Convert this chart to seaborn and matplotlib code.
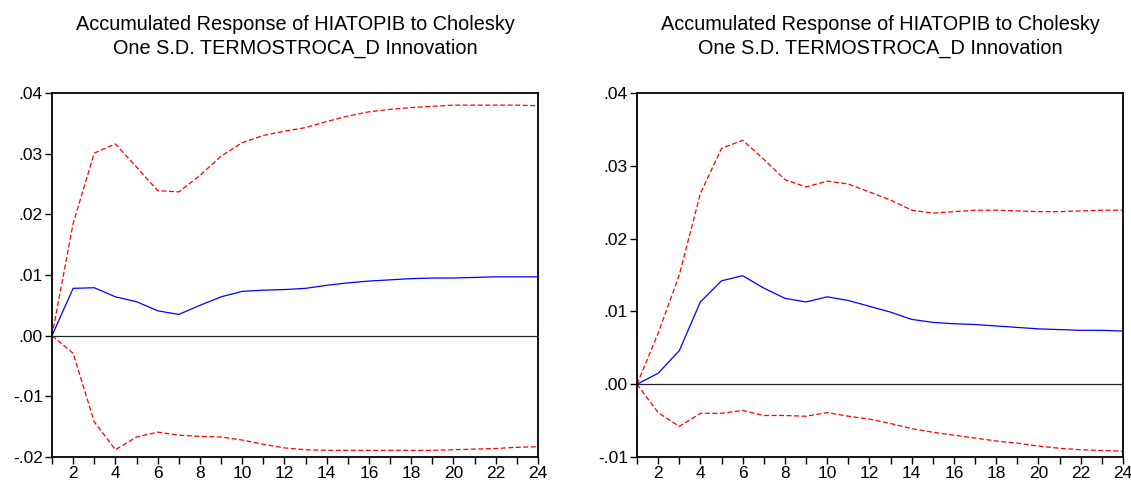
import matplotlib
matplotlib.use("Agg")
import matplotlib.pyplot as plt
import seaborn as sns
import pandas as pd
import numpy as np
from matplotlib.ticker import FuncFormatter, MultipleLocator

sns.set_theme(style="white")
plt.rcParams['font.family'] = ['Liberation Sans', 'DejaVu Sans']

periods = list(range(1, 25))

left_resp = [0.0, 0.0078, 0.0079, 0.0064, 0.0056, 0.0041, 0.0035, 0.0050, 0.0064, 0.0073,
             0.0075, 0.0076, 0.0078, 0.0083, 0.0087, 0.0090, 0.0092, 0.0094, 0.0095, 0.0095,
             0.0096, 0.0097, 0.0097, 0.0097]
left_upper = [0.0, 0.0185, 0.0301, 0.0316, 0.0278, 0.0239, 0.0237, 0.0264, 0.0296, 0.0318,
              0.0330, 0.0337, 0.0343, 0.0353, 0.0362, 0.0369, 0.0373, 0.0376, 0.0378, 0.0380,
              0.0380, 0.0380, 0.0380, 0.0379]
left_lower = [0.0, -0.0029, -0.0142, -0.0188, -0.0167, -0.0159, -0.0164, -0.0166, -0.0167, -0.0172,
              -0.0179, -0.0185, -0.0188, -0.0189, -0.0189, -0.0189, -0.0189, -0.0189, -0.0189, -0.0188,
              -0.0187, -0.0186, -0.0184, -0.0183]

right_resp = [0.0, 0.0015, 0.0046, 0.0113, 0.0142, 0.0149, 0.0132, 0.0118, 0.0113, 0.0120,
              0.0115, 0.0107, 0.0099, 0.0089, 0.0085, 0.0083, 0.0082, 0.0080, 0.0078, 0.0076,
              0.0075, 0.0074, 0.0074, 0.0073]
right_upper = [0.0, 0.0070, 0.0150, 0.0262, 0.0324, 0.0335, 0.0309, 0.0281, 0.0271, 0.0279,
               0.0275, 0.0264, 0.0253, 0.0239, 0.0235, 0.0237, 0.0239, 0.0239, 0.0238, 0.0237,
               0.0237, 0.0238, 0.0239, 0.0239]
right_lower = [0.0, -0.0039, -0.0058, -0.0040, -0.0040, -0.0036, -0.0043, -0.0043, -0.0044, -0.0039,
               -0.0044, -0.0048, -0.0054, -0.0061, -0.0066, -0.0070, -0.0074, -0.0078, -0.0081, -0.0085,
               -0.0088, -0.0090, -0.0091, -0.0092]

title = "Accumulated Response of HIATOPIB to Cholesky\nOne S.D. TERMOSTROCA_D Innovation"

fig = plt.figure(figsize=(11.31, 4.8), dpi=100)
ax1 = fig.add_axes([52/1131, 1-457/480, 486/1131, 364/480])
ax2 = fig.add_axes([637/1131, 1-457/480, 486/1131, 364/480])

def fmt(v, pos):
    s = f"{v:.2f}"
    if s.startswith("-0"):
        return "-" + s[2:]
    if s.startswith("0"):
        return s[1:]
    return s

def draw(ax, resp, up, lo, ylim, yticks):
    df = pd.DataFrame({"period": periods, "resp": resp, "upper": up, "lower": lo})
    ax.axhline(0, color="#222222", lw=0.9, zorder=1)
    sns.lineplot(data=df, x="period", y="upper", ax=ax, color="red", lw=0.9, linestyle=(0, (4, 2)))
    sns.lineplot(data=df, x="period", y="lower", ax=ax, color="red", lw=0.9, linestyle=(0, (4, 2)))
    sns.lineplot(data=df, x="period", y="resp", ax=ax, color="blue", lw=0.9)
    ax.set_xlim(1, 24)
    ax.set_ylim(*ylim)
    ax.set_xticks(range(1, 25))
    ax.set_xticklabels([str(p) if p % 2 == 0 else "" for p in periods])
    ax.set_yticks(yticks)
    ax.yaxis.set_major_formatter(FuncFormatter(fmt))
    ax.set_xlabel("")
    ax.set_ylabel("")
    for s in ax.spines.values():
        s.set_color("black")
        s.set_linewidth(1.3)
    ax.tick_params(axis="both", which="major", direction="out", length=5, width=1,
                   color="black", labelsize=12.5, labelcolor="black", pad=1.5)
    ax.tick_params(axis="x", bottom=True, top=False)
    ax.tick_params(axis="y", left=True, right=False)
    ax.set_title(title, fontsize=14.3, pad=28, linespacing=1.33, color="black")

draw(ax1, left_resp, left_upper, left_lower, (-0.02, 0.04),
     [-0.02, -0.01, 0.0, 0.01, 0.02, 0.03, 0.04])
draw(ax2, right_resp, right_upper, right_lower, (-0.01, 0.04),
     [-0.01, 0.0, 0.01, 0.02, 0.03, 0.04])

fig.savefig("out.png", dpi=100)
